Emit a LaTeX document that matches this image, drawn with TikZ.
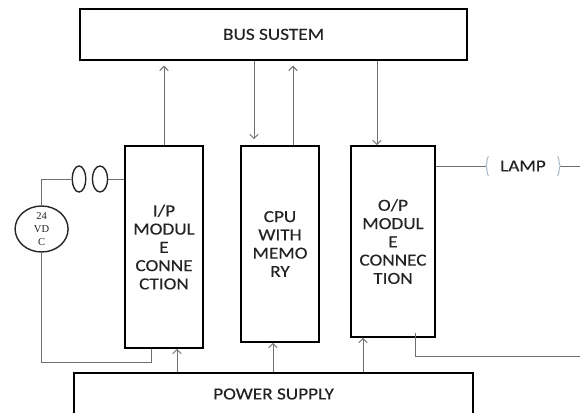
\documentclass[tikz,border=0pt]{standalone}
\usepackage{fontspec}
\setmainfont[FakeStretch=1.14,FakeBold=0.25]{Carlito}
\newfontfamily\supplyfont{Liberation Serif}
\usetikzlibrary{shapes.geometric,arrows.meta}

\begin{document}
\begin{tikzpicture}

    % Define colors
    \definecolor{wiregray}{RGB}{110,110,110}
    \definecolor{textgray}{RGB}{35,35,35}
    \definecolor{bracketblue}{RGB}{165,180,195}

    \tikzset{
        block/.style={draw=black, line width=1.2pt, fill=white, text=textgray, align=center, inner sep=0pt, font=\fontsize{12}{13}\selectfont},
        wire/.style={wiregray, line width=0.7pt},
        link/.style={wire, -{Straight Barb[length=3pt,width=6pt]}},
        bracket/.style={bracketblue, line width=0.7pt},
        fuse/.style={ellipse, draw=black!85, line width=1pt, minimum height=0.65cm, inner sep=0pt}
    }

    \useasboundingbox (0,0) rectangle (14.5,10.3);

    % Blocks
    \node[block, minimum width=9.675cm, minimum height=1.275cm] (busbox) at (6.84,9.44) {BUS SUSTEM};
    \node[block, minimum width=1.95cm, minimum height=5.05cm] (ipbox) at (4.1,4.125) {I/P\\MODUL\\E\\CONNE\\CTION};
    \node[block, minimum width=1.95cm, minimum height=4.9cm] (cpubox) at (7,4.2) {CPU\\WITH\\MEMO\\RY};
    \node[block, minimum width=2.1cm, minimum height=4.775cm] (opbox) at (9.825,4.2625) {O/P\\MODUL\\E\\CONNEC\\TION};
    \node[block, minimum width=9.975cm, minimum height=1.05cm] (powerbox) at (6.84,0.45) {POWER SUPPLY};

    %-------------
    % Bus links
    \draw[link, shorten >=0.125cm] (ipbox.north) -- (ipbox.north |- busbox.south);
    \draw[link, shorten >=0.15cm] ([xshift=-0.65cm]cpubox.north |- busbox.south) -- ([xshift=-0.65cm]cpubox.north);
    \draw[link, shorten >=0.125cm] ([xshift=0.325cm]cpubox.north) -- ([xshift=0.325cm]cpubox.north |- busbox.south);
    \draw[link] ([xshift=-0.4cm]opbox.north |- busbox.south) -- ([xshift=-0.4cm]opbox.north);

    %-------------
    % Power links
    \draw[link] ([xshift=0.325cm]ipbox.south |- powerbox.north) -- ([xshift=0.325cm]ipbox.south);
    \draw[link] ([xshift=-0.175cm]cpubox.south |- powerbox.north) -- ([xshift=-0.175cm]cpubox.south);
    \draw[link] ([xshift=-0.75cm]opbox.south |- powerbox.north) -- ([xshift=-0.75cm]opbox.south);

    %-------------
    % Input circuit
    \node[fuse, minimum width=0.34cm] (fuseA) at (1.975,5.825) {};
    \node[fuse, minimum width=0.38cm] (fuseB) at (2.5,5.825) {};
    \node[ellipse, draw=black!85, line width=1pt, minimum width=1.325cm, minimum height=1.15cm, inner sep=0pt, align=center, text=textgray, font=\supplyfont\fontsize{7.5}{9}\selectfont] (supply) at (1.04,4.575) {24\\VD\\C};

    \draw[wire] (fuseB.east) -- (fuseB.east -| ipbox.west);
    \draw[wire] (fuseA.west) -| (supply.north);
    \draw[wire] (supply.south) |- ([xshift=-0.325cm,yshift=-0.35cm]ipbox.south) -- ([xshift=-0.325cm]ipbox.south);

    %-------------
    % Output circuit
    \node[minimum width=1.85cm, inner sep=0pt, text=textgray, font=\fontsize{12}{13}\selectfont] (lamp) at (13.075,6.15) {LAMP};
    \coordinate (lampend) at (14.5,6.15);
    \coordinate (returnend) at (14.5,1.4);

    \draw[wire] (lamp.west -| opbox.east) -- (lamp.west);
    \draw[wire] (lamp.east) -- (lampend);
    \draw[wire] ([xshift=0.55cm,yshift=0.125cm]opbox.south) |- (returnend);

    \draw[bracket] ([shift={(0.07,0.24)}]lamp.west) .. controls ([shift={(0.01,0.2)}]lamp.west) and ([shift={(0.05,0.04)}]lamp.west) .. (lamp.west)
        .. controls ([shift={(0.05,-0.04)}]lamp.west) and ([shift={(0.01,-0.2)}]lamp.west) .. ([shift={(0.07,-0.24)}]lamp.west);
    \draw[bracket] ([shift={(-0.07,0.24)}]lamp.east) .. controls ([shift={(-0.01,0.2)}]lamp.east) and ([shift={(-0.05,0.04)}]lamp.east) .. (lamp.east)
        .. controls ([shift={(-0.05,-0.04)}]lamp.east) and ([shift={(-0.01,-0.2)}]lamp.east) .. ([shift={(-0.07,-0.24)}]lamp.east);

\end{tikzpicture}
\end{document}
